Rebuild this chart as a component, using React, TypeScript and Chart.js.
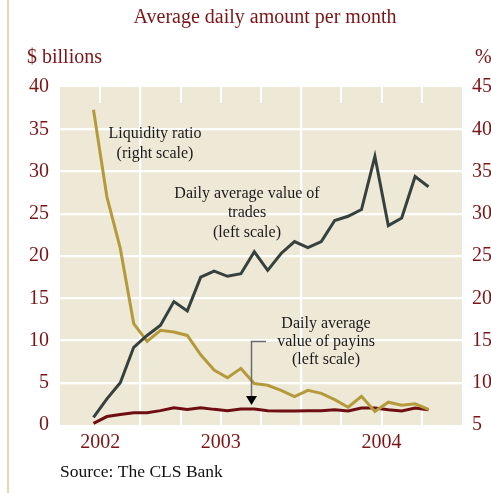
import { useEffect, useRef } from 'react';
import { Chart, registerables } from 'chart.js';

Chart.register(...registerables);

// Months (mid-month points)
const months = [
  '2002-09', '2002-10', '2002-11', '2002-12',
  '2003-01', '2003-02', '2003-03', '2003-04', '2003-05', '2003-06',
  '2003-07', '2003-08', '2003-09', '2003-10', '2003-11', '2003-12',
  '2004-01', '2004-02', '2004-03', '2004-04', '2004-05', '2004-06',
  '2004-07', '2004-08', '2004-09', '2004-10',
];

// Daily average value of trades, $ billions (left scale)
const tradesValues = [
  0.9, 3.1, 5.0, 9.2, 10.6, 11.8, 14.6, 13.5, 17.5, 18.2, 17.6, 17.9, 20.5,
  18.3, 20.3, 21.7, 21.0, 21.7, 24.2, 24.7, 25.5, 31.8, 23.6, 24.5, 29.4, 28.2,
];

// Daily average value of payins, $ billions (left scale)
const payinsValues = [
  0.2, 1.0, 1.25, 1.45, 1.45, 1.7, 2.05, 1.85, 2.05, 1.85, 1.7, 1.9, 1.9,
  1.7, 1.65, 1.65, 1.7, 1.7, 1.8, 1.65, 2.0, 2.0, 1.8, 1.65, 2.0, 1.8,
];

// Liquidity ratio, % (right scale)
const liquidityRatio = [
  42.3, 32.0, 25.9, 17.0, 14.9, 16.2, 16.0, 15.6, 13.3, 11.5, 10.6, 11.7, 9.9,
  9.7, 9.1, 8.35, 9.1, 8.75, 8.0, 7.1, 8.4, 6.6, 7.7, 7.35, 7.5, 6.85,
];

const leftTicks = [0, 5, 10, 15, 20, 25, 30, 35, 40];
const rightTicks = [5, 10, 15, 20, 25, 30, 35, 40, 45];
const yearLabels = ['2002', '2003', '2004'];

// x axis in months since Jan 2002
const X_MIN = 6; // July 2002
const X_MAX = 36; // Jan 2005
const monthToX = (m: string) => {
  const [y, mo] = m.split('-').map(Number);
  return (y - 2002) * 12 + (mo - 1) + 0.5;
};
const yearStart = (label: string) => (Number(label) - 2002) * 12;
const yearTickValue = (label: string) => {
  const s = Math.max(yearStart(label), X_MIN);
  const e = Math.min(yearStart(label) + 12, X_MAX);
  return (s + e) / 2;
};
const yearBoundaries = yearLabels.map(yearStart).filter((v) => v > X_MIN && v < X_MAX);
const quarterMarks = [9, 15, 18, 21, 27, 30, 33];

const DARK_RED = '#7a1416';
const SERIF = "'Liberation Serif', 'Times New Roman', serif";
const BEIGE = '#eee9d7';

const decorPlugin = {
  id: 'decor',
  beforeDraw(chart: any) {
    const { ctx, chartArea } = chart;
    ctx.save();
    ctx.fillStyle = '#ffffff';
    ctx.fillRect(0, 0, chart.width, chart.height);
    ctx.fillStyle = '#e4d9ae';
    ctx.fillRect(7, 0, 2, chart.height);
    ctx.fillStyle = BEIGE;
    ctx.fillRect(chartArea.left, chartArea.top, chartArea.right - chartArea.left, chartArea.bottom - chartArea.top);
    ctx.restore();
  },
  beforeDatasetsDraw(chart: any) {
    const { ctx, chartArea, scales } = chart;
    ctx.save();
    ctx.strokeStyle = '#ffffff';
    ctx.lineWidth = 2;
    quarterMarks.forEach((q) => {
      const x = Math.round(scales.x.getPixelForValue(q));
      ctx.beginPath();
      ctx.moveTo(x, chartArea.top);
      ctx.lineTo(x, chartArea.top + 16);
      ctx.stroke();
      if (q !== 9) {
        ctx.beginPath();
        ctx.moveTo(x, chartArea.bottom);
        ctx.lineTo(x, chartArea.bottom - 14);
        ctx.stroke();
      }
    });
    ctx.restore();
  },
  afterDraw(chart: any) {
    const { ctx } = chart;
    ctx.save();
    ctx.textBaseline = 'middle';
    // Title
    ctx.fillStyle = DARK_RED;
    ctx.font = `20px ${SERIF}`;
    ctx.textAlign = 'center';
    ctx.fillText('Average daily amount per month', 265, 18);
    ctx.textAlign = 'left';
    ctx.fillText('$ billions', 27, 58);
    ctx.fillText('%', 475, 58);
    // Source
    ctx.fillStyle = '#111111';
    ctx.font = `17.5px ${SERIF}`;
    ctx.fillText('Source: The CLS Bank', 60, 472);
    // Annotations
    ctx.font = `16px ${SERIF}`;
    ctx.textAlign = 'center';
    ctx.fillStyle = '#1a1a1a';
    ctx.fillText('Liquidity ratio', 155, 134);
    ctx.fillText('(right scale)', 155, 154);
    ctx.fillText('Daily average value of', 247, 194);
    ctx.fillText('trades', 247, 213);
    ctx.fillText('(left scale)', 247, 233);
    ctx.fillText('Daily average', 326, 324);
    ctx.fillText('value of payins', 326, 342);
    ctx.fillText('(left scale)', 326, 360);
    // Arrow
    ctx.strokeStyle = '#6b6b6b';
    ctx.lineWidth = 1.5;
    ctx.beginPath();
    ctx.moveTo(266, 341.5);
    ctx.lineTo(251.5, 341.5);
    ctx.lineTo(251.5, 397);
    ctx.stroke();
    ctx.fillStyle = '#000000';
    ctx.beginPath();
    ctx.moveTo(246, 396);
    ctx.lineTo(257, 396);
    ctx.lineTo(251.5, 405);
    ctx.closePath();
    ctx.fill();
    ctx.restore();
  },
};

export default function App() {
  const ref = useRef<HTMLCanvasElement | null>(null);

  useEffect(() => {
    if (!ref.current) return;
    const xs = months.map(monthToX);
    const chart = new Chart(ref.current, {
      type: 'line',
      data: {
        datasets: [
          {
            label: 'Daily average value of trades',
            data: tradesValues.map((v, i) => ({ x: xs[i], y: v })),
            borderColor: '#36413d',
            borderWidth: 3,
            pointRadius: 0,
            tension: 0,
            yAxisID: 'y',
            order: 1,
          },
          {
            label: 'Liquidity ratio',
            data: liquidityRatio.map((v, i) => ({ x: xs[i], y: v })),
            borderColor: '#b59a3b',
            borderWidth: 3,
            pointRadius: 0,
            tension: 0,
            yAxisID: 'y1',
            order: 2,
          },
          {
            label: 'Daily average value of payins',
            data: payinsValues.map((v, i) => ({ x: xs[i], y: v })),
            borderColor: '#6e0e12',
            borderWidth: 3,
            pointRadius: 0,
            tension: 0,
            yAxisID: 'y',
            order: 3,
          },
        ],
      },
      options: {
        responsive: false,
        animation: false,
        devicePixelRatio: 1,
        layout: { padding: { top: 87, left: 0, right: 0, bottom: 0 } },
        plugins: {
          legend: { display: false },
          tooltip: { enabled: false },
          title: { display: false },
        },
        scales: {
          x: {
            type: 'linear',
            min: X_MIN,
            max: X_MAX,
            afterBuildTicks: (scale: any) => {
              const vals = [
                ...yearLabels.map(yearTickValue),
                ...yearBoundaries,
              ].sort((a, b) => a - b);
              scale.ticks = vals.map((value) => ({ value }));
            },
            afterFit: (scale: any) => {
              scale.height = 68;
            },
            ticks: {
              autoSkip: false,
              maxRotation: 0,
              padding: 6,
              color: DARK_RED,
              font: { family: SERIF, size: 20 },
              callback: (value: any) => {
                const idx = yearLabels.findIndex((l) => Math.abs(yearTickValue(l) - Number(value)) < 1e-6);
                return idx >= 0 ? yearLabels[idx] : '';
              },
            },
            grid: {
              drawTicks: false,
              lineWidth: 2.2,
              color: (ctx: any) =>
                ctx.tick && yearBoundaries.includes(ctx.tick.value) ? '#ffffff' : 'rgba(0,0,0,0)',
            },
            border: { display: false },
          },
          y: {
            type: 'linear',
            position: 'left',
            min: leftTicks[0],
            max: leftTicks[leftTicks.length - 1],
            afterBuildTicks: (scale: any) => {
              scale.ticks = leftTicks.map((value) => ({ value }));
            },
            afterFit: (scale: any) => {
              scale.width = 60;
            },
            ticks: {
              padding: 11,
              color: DARK_RED,
              font: { family: SERIF, size: 20 },
            },
            grid: {
              drawTicks: false,
              lineWidth: 2.2,
              color: (ctx: any) =>
                ctx.tick && (ctx.tick.value === leftTicks[0] || ctx.tick.value === leftTicks[leftTicks.length - 1])
                  ? 'rgba(0,0,0,0)'
                  : '#ffffff',
            },
            border: { display: false },
          },
          y1: {
            type: 'linear',
            position: 'right',
            min: rightTicks[0],
            max: rightTicks[rightTicks.length - 1],
            afterBuildTicks: (scale: any) => {
              scale.ticks = rightTicks.map((value) => ({ value }));
            },
            afterFit: (scale: any) => {
              scale.width = 29;
            },
            ticks: {
              padding: 10,
              color: DARK_RED,
              font: { family: SERIF, size: 20 },
            },
            grid: { display: false, drawTicks: false },
            border: { display: false },
          },
        },
      },
      plugins: [decorPlugin],
    });
    return () => chart.destroy();
  }, []);

  return (
    <div style={{ position: 'fixed', left: 0, top: 0, width: 491, height: 493 }}>
      <canvas ref={ref} width={491} height={493} style={{ display: 'block' }} />
    </div>
  );
}
